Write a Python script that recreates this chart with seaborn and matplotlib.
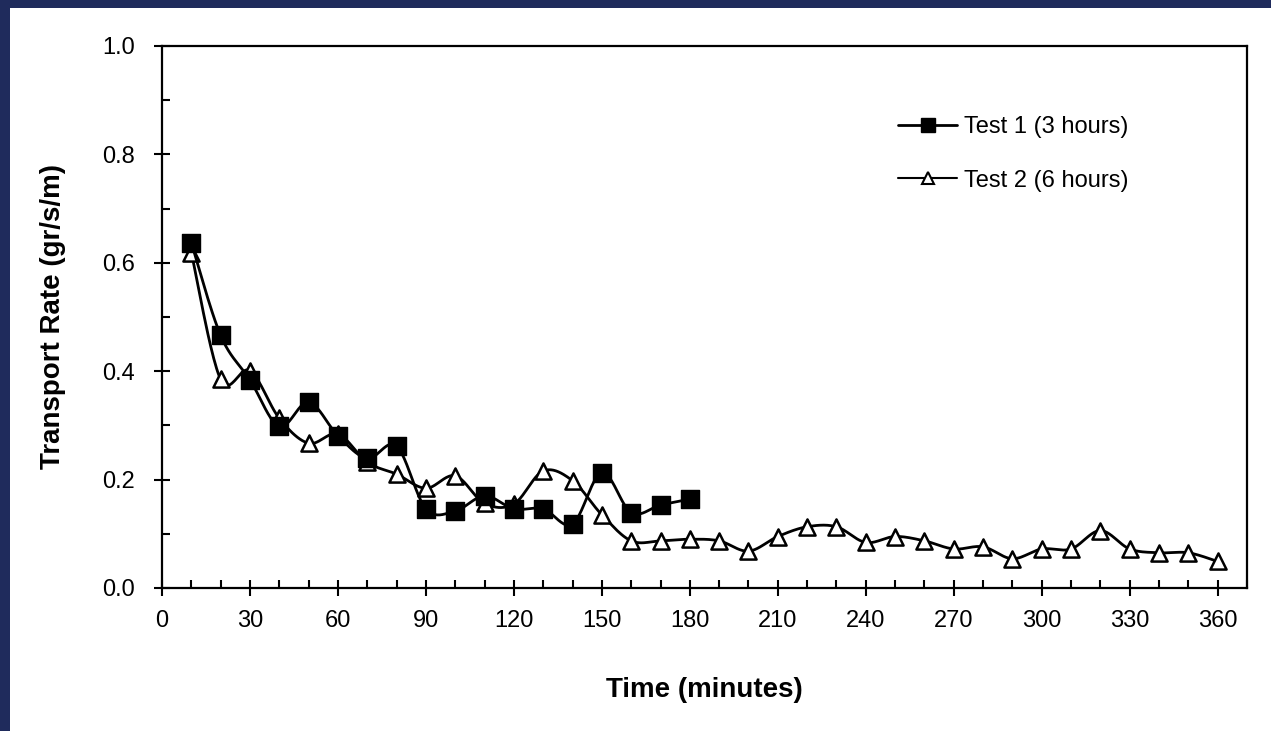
import numpy as np
import pandas as pd
import matplotlib
matplotlib.use("Agg")
import matplotlib.pyplot as plt
from matplotlib.lines import Line2D
from matplotlib.patches import Rectangle
from matplotlib.ticker import MultipleLocator
import seaborn as sns

# Data (minutes, gr/s/m)
time_test1 = list(range(10, 190, 10))
rate_test1 = [0.637, 0.466, 0.384, 0.298, 0.343, 0.281, 0.239, 0.262, 0.146,
              0.142, 0.170, 0.146, 0.146, 0.118, 0.213, 0.139, 0.153, 0.164]

time_test2 = list(range(10, 370, 10))
rate_test2 = [0.619, 0.385, 0.401, 0.313, 0.267, 0.284, 0.232, 0.210, 0.184,
              0.207, 0.156, 0.155, 0.216, 0.198, 0.135, 0.087, 0.087, 0.090,
              0.087, 0.068, 0.095, 0.113, 0.113, 0.084, 0.095, 0.087, 0.072,
              0.076, 0.054, 0.072, 0.072, 0.106, 0.072, 0.065, 0.065, 0.049]

series_labels = ["Test 1 (3 hours)", "Test 2 (6 hours)"]
x_ticks = list(range(0, 390, 30))
y_ticks = [0.0, 0.2, 0.4, 0.6, 0.8, 1.0]

NAVY = "#1f2b5c"


def smooth_path(x, y, steps=24):
    # Excel style smoothed line: Bezier segments with Catmull-Rom control points
    p = np.column_stack([x, y]).astype(float)
    ext = np.vstack([p[0], p, p[-1]])
    t = np.linspace(0, 1, steps)[:, None]
    out = []
    for i in range(1, len(ext) - 2):
        p0, p1, p2, p3 = ext[i - 1], ext[i], ext[i + 1], ext[i + 2]
        c1 = p1 + (p2 - p0) / 6
        c2 = p2 - (p3 - p1) / 6
        seg = ((1 - t) ** 3) * p1 + 3 * ((1 - t) ** 2) * t * c1 \
            + 3 * (1 - t) * t ** 2 * c2 + t ** 3 * p2
        out.append(seg if i == 1 else seg[1:])
    out = np.vstack(out)
    return out[:, 0], out[:, 1]


sns.set_theme(style="ticks")
plt.rcParams["font.family"] = ["Liberation Sans", "DejaVu Sans"]
plt.rcParams["text.color"] = "black"
plt.rcParams["axes.labelcolor"] = "black"

fig = plt.figure(figsize=(12.71, 7.31), dpi=100, facecolor=NAVY)
fig.patches.append(Rectangle((10 / 1271, 0), 1, 1 - 8 / 731, transform=fig.transFigure,
                             facecolor="white", edgecolor="none", zorder=-10))
ax = fig.add_axes([162 / 1271, 143 / 731, 1085 / 1271, 542 / 731])
ax.set_facecolor("white")

# Test 2 first so the Test 1 squares sit on top
sx, sy = smooth_path(time_test2, rate_test2)
sns.lineplot(x=sx, y=sy, sort=False, estimator=None, color="black", lw=2, ax=ax, zorder=2)
sns.scatterplot(x=time_test2, y=rate_test2, marker="^", s=135, color="white",
                edgecolor="black", linewidth=1.8, ax=ax, zorder=3)

sx, sy = smooth_path(time_test1, rate_test1)
sns.lineplot(x=sx, y=sy, sort=False, estimator=None, color="black", lw=2, ax=ax, zorder=4)
sns.scatterplot(x=time_test1, y=rate_test1, marker="s", s=150, color="black",
                edgecolor="black", linewidth=1, ax=ax, zorder=5)

ax.set_xlim(0, 370)
ax.set_ylim(0, 1.0)
ax.set_xticks(x_ticks)
ax.set_yticks(y_ticks)
ax.set_yticklabels([f"{v:.1f}" for v in y_ticks])
ax.xaxis.set_minor_locator(MultipleLocator(10))
ax.yaxis.set_minor_locator(MultipleLocator(0.1))

for side in ["top", "right", "bottom", "left"]:
    ax.spines[side].set_visible(True)
    ax.spines[side].set_color("black")
    ax.spines[side].set_linewidth(1.6)

ax.tick_params(which="major", direction="inout", length=11, width=1.5,
               labelsize=17, colors="black")
ax.tick_params(axis="x", which="major", pad=10)
ax.tick_params(axis="y", which="major", pad=14)
ax.tick_params(which="minor", direction="in", length=5.5, width=1.5, colors="black")

ax.set_xlabel("Time (minutes)", fontsize=20, fontweight="bold", labelpad=33)
ax.set_ylabel("Transport Rate (gr/s/m)", fontsize=20, fontweight="bold", labelpad=26)

handles = [
    Line2D([], [], color="black", lw=2, marker="s", markersize=10.5,
           markerfacecolor="black", markeredgecolor="black"),
    Line2D([], [], color="black", lw=1.5, marker="^", markersize=8.5,
           markerfacecolor="white", markeredgecolor="black", markeredgewidth=1.5),
]
ax.legend(handles, series_labels, loc="upper left",
          bbox_to_anchor=(898 / 1271, 1 - 116 / 731), bbox_transform=fig.transFigure,
          frameon=False, fontsize=17, handlelength=2.5, handletextpad=0.3,
          labelspacing=1.34, borderpad=0, borderaxespad=0, numpoints=1)

fig.savefig("out.png", dpi=100, facecolor=fig.get_facecolor())
